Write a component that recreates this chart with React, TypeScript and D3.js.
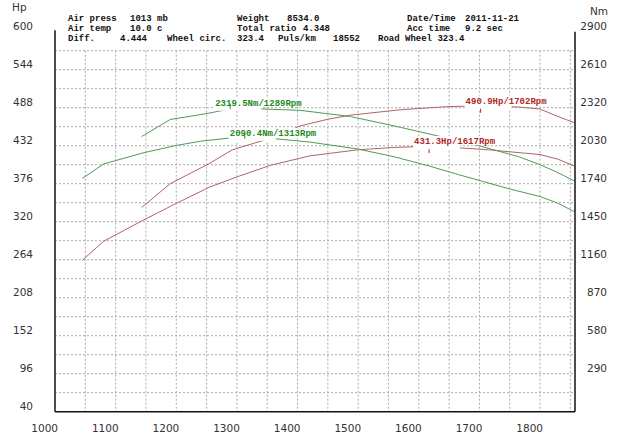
import React from "react";
import * as d3 from "d3";

// ---- data ----
const hpTicks = [40, 96, 152, 208, 264, 320, 376, 432, 488, 544, 600];
const nmTicks = [290, 580, 870, 1160, 1450, 1740, 2030, 2320, 2610, 2900];
const rpmTicks = [1000, 1100, 1200, 1300, 1400, 1500, 1600, 1700, 1800];

const upperNmRpm = [1143, 1190, 1250, 1283, 1289, 1330, 1404, 1487, 1570, 1646, 1702, 1765, 1800, 1827, 1856];
const upperNm = [2100, 2230, 2275, 2305, 2319.5, 2312, 2300, 2253, 2170, 2089, 2026, 1946, 1885, 1830, 1762];

const lowerNmRpm = [1045, 1080, 1145, 1200, 1240, 1285, 1313, 1365, 1420, 1500, 1560, 1617, 1665, 1715, 1750, 1800, 1830, 1856];
const lowerNm = [1780, 1890, 1975, 2032, 2064, 2087, 2090.4, 2082, 2058, 2004, 1945, 1875, 1810, 1745, 1700, 1642, 1590, 1528];

const upperHpRpm = [1143, 1190, 1253, 1292, 1355, 1404, 1450, 1487, 1570, 1646, 1702, 1765, 1800, 1827, 1856];
const upperHp = [341, 376, 405, 425.7, 443, 461, 471, 477, 485, 489.5, 490.9, 489, 486, 476, 466];

const lowerHpRpm = [1045, 1080, 1145, 1200, 1255, 1300, 1355, 1420, 1500, 1560, 1617, 1665, 1715, 1750, 1800, 1830, 1856];
const lowerHp = [263, 291, 322, 347, 371, 386, 403, 417, 426, 429.5, 431.3, 429, 426, 423, 419, 412, 402];

const headerRows = [
  [["Air press", 68], ["1013 mb", 130], ["Weight", 237], ["8534.0", 287], ["Date/Time", 407], ["2011-11-21", 465]],
  [["Air temp", 68], ["10.0 c", 130], ["Total ratio", 237], ["4.348", 303], ["Acc time", 407], ["9.2 sec", 465]],
  [["Diff.", 68], ["4.444", 120], ["Wheel circ.", 167], ["323.4", 237], ["Puls/km", 278], ["18552", 333], ["Road Wheel 323.4", 378]],
];

const W = 625, H = 442;
const L = 55, R = 575, B = 411.7, T = 31.7;
const RPM_MAX = 1000 + (R - L) / 0.6063;

const GREEN_LINE = "#4f9a55";
const RED_LINE = "#b06464";
const GREEN_TXT = "#1f8a22";
const RED_TXT = "#b02828";

export default function App() {
  const x = d3.scaleLinear().domain([1000, RPM_MAX]).range([L, R]);
  const yHp = d3.scaleLinear().domain([40, 600]).range([B, T]);
  const yNm = d3.scaleLinear().domain([0, 2900]).range([B, T]);

  const gridH = d3.range(68, 600, 28).map((v) => yHp(v));
  const gridV = d3.range(1050, RPM_MAX, 50).map((v) => x(v));
  const gridTop = yHp(572);

  const series = [
    { rpm: upperNmRpm, val: upperNm, y: yNm, unit: "Nm", line: GREEN_LINE, txt: GREEN_TXT },
    { rpm: lowerNmRpm, val: lowerNm, y: yNm, unit: "Nm", line: GREEN_LINE, txt: GREEN_TXT },
    { rpm: upperHpRpm, val: upperHp, y: yHp, unit: "Hp", line: RED_LINE, txt: RED_TXT },
    { rpm: lowerHpRpm, val: lowerHp, y: yHp, unit: "Hp", line: RED_LINE, txt: RED_TXT },
  ];

  const mono = "'Liberation Mono', 'DejaVu Sans Mono', monospace";
  const sans = "'DejaVu Sans', Verdana, sans-serif";

  const peaks = series.map((s) => {
    const i = d3.maxIndex(s.val);
    const px = x(s.rpm[i]);
    const py = s.y(s.val[i]);
    const text = `${s.val[i].toFixed(1)}${s.unit}/${s.rpm[i]}Rpm`;
    return { px, py, text, s };
  });

  return (
    <svg width={W} height={H} style={{ position: "absolute", left: 0, top: 0, background: "#fff" }}>
      <rect x={0} y={0} width={W} height={H} fill="#fff" />
      {/* grid */}
      {gridH.map((gy, i) => (
        <line key={"h" + i} x1={L} x2={R} y1={gy} y2={gy} stroke="#aaa" strokeWidth={1} strokeDasharray="2,2" />
      ))}
      {gridV.map((gx, i) => (
        <line key={"v" + i} x1={gx} x2={gx} y1={gridTop} y2={B} stroke="#aaa" strokeWidth={1} strokeDasharray="2,2" />
      ))}
      {/* axes */}
      <line x1={L} x2={L} y1={T - 1.5} y2={B} stroke="#111" strokeWidth={1.5} />
      <line x1={R} x2={R} y1={T} y2={B} stroke="#111" strokeWidth={1.5} />
      <line x1={L} x2={R} y1={B} y2={B} stroke="#111" strokeWidth={1.5} />

      {/* left labels */}
      {hpTicks.map((v) => (
        <text key={"l" + v} x={33} y={yHp(v) - 1.5} textAnchor="end" fontFamily={sans} fontSize={10.5} fill="#333">
          {v}
        </text>
      ))}
      {nmTicks.map((v) => (
        <text key={"r" + v} x={607} y={yNm(v) - 1.5} textAnchor="end" fontFamily={sans} fontSize={10.5} fill="#333">
          {v}
        </text>
      ))}
      {rpmTicks.map((v) => (
        <text key={"x" + v} x={x(v) + 3} y={431.5} textAnchor="end" fontFamily={sans} fontSize={10.5} fill="#333">
          {v}
        </text>
      ))}
      <text x={12} y={11} fontFamily={sans} fontSize={10.5} fill="#333">Hp</text>
      <text x={590} y={14.5} fontFamily={sans} fontSize={10.5} fill="#333">Nm</text>

      {/* curves */}
      {series.map((s, k) => {
        const pts = s.rpm.map((r, i) => [r, s.val[i]] as [number, number]);
        const gen = d3.line<[number, number]>().x((d) => x(d[0])).y((d) => s.y(d[1]));
        return <path key={"c" + k} d={gen(pts) || ""} fill="none" stroke={s.line} strokeWidth={1} />;
      })}

      {/* peak labels */}
      {peaks.map((p, k) => (
        <g key={"p" + k}>
          <rect x={p.px - 15} y={p.py - 10} width={p.text.length * 5.45} height={9} fill="#fff" />
          <rect x={p.px - 16} y={p.py - 10} width={47} height={13} fill="#fff" />
        </g>
      ))}
      {peaks.map((p, k) => (
        <g key={"pt" + k}>
          <text x={p.px - 15} y={p.py - 2} fontFamily={mono} fontWeight="bold" fontSize={9} fill={p.s.txt}>
            {p.text}
          </text>
          {p.s.unit === "Nm" ? (
            <line x1={p.px} x2={p.px} y1={p.py - 4} y2={p.py + 1} stroke={p.s.txt} strokeWidth={1} />
          ) : (
            <line x1={p.px} x2={p.px} y1={p.py + 3} y2={p.py + 7} stroke={p.s.txt} strokeWidth={1} />
          )}
        </g>
      ))}

      {/* header */}
      {headerRows.map((row, ri) =>
        row.map(([t, hx], ci) => (
          <text key={"hd" + ri + "-" + ci} x={hx as number} y={20.5 + ri * 10.3} fontFamily={mono} fontWeight="bold" fontSize={9} fill="#111">
            {t}
          </text>
        ))
      )}
    </svg>
  );
}
